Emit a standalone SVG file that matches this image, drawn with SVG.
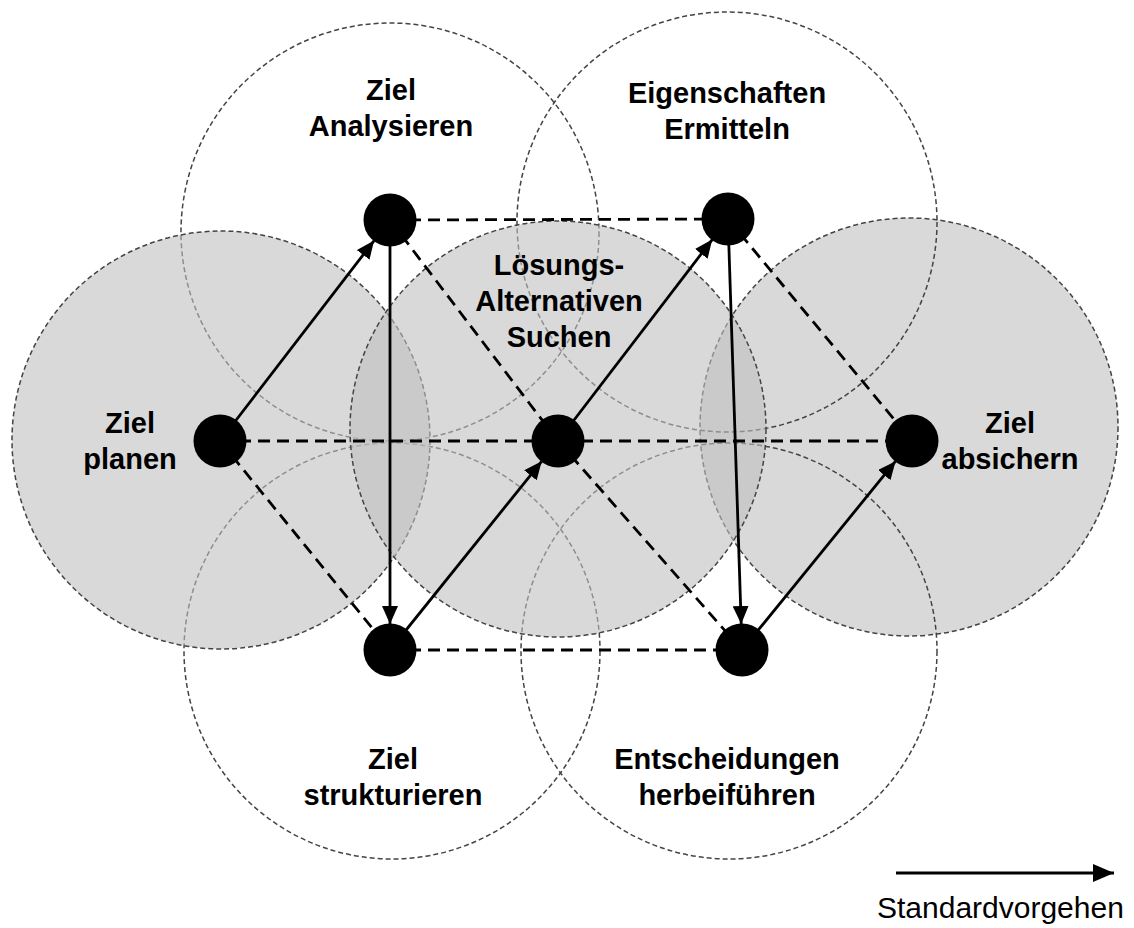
<svg xmlns="http://www.w3.org/2000/svg" width="1134" height="928" viewBox="0 0 1134 928">
  <style>
    .area { stroke: #444; stroke-width: 1.5; stroke-dasharray: 5 3; }
    .open { fill: none; }
    .shade { fill: #c0c0c0; fill-opacity: 0.6; }
    .link { stroke: #000; stroke-width: 2.8; fill: none; }
    .dash { stroke-dasharray: 12 7; }
    .dot { fill: #000; }
    .lbl { font-family: "Liberation Sans", Arial, Helvetica, sans-serif; font-weight: bold; font-size: 29px; text-anchor: middle; fill: #000; }
    .legend { font-family: "Liberation Sans", Arial, Helvetica, sans-serif; font-size: 30px; fill: #000; }
  </style>
  <defs>
    <marker id="head" markerUnits="userSpaceOnUse" markerWidth="18" markerHeight="16" refX="18" refY="8" orient="auto">
      <path d="M0,0 L18,8 L0,16 Z" fill="#000"/>
    </marker>
    <marker id="headBig" markerUnits="userSpaceOnUse" markerWidth="21" markerHeight="18" refX="21" refY="9" orient="auto">
      <path d="M0,0 L21,9 L0,18 Z" fill="#000"/>
    </marker>
  </defs>
  <rect width="1134" height="928" fill="#fff"/>

  <!-- phase areas: shaded and open circles, stacked in drawing order -->
  <g id="areas">
    <circle id="area-absichern" class="area shade" cx="909" cy="427" r="209"/>
    <circle id="area-analysieren" class="area open" cx="390" cy="232" r="209"/>
    <circle id="area-ermitteln" class="area open" cx="727" cy="222" r="210"/>
    <circle id="area-strukturieren" class="area open" cx="392" cy="651" r="208"/>
    <circle id="area-entscheiden" class="area open" cx="729" cy="651" r="208"/>
    <circle id="area-planen" class="area shade" cx="221" cy="440" r="209"/>
    <circle id="area-suchen" class="area shade" cx="558" cy="429" r="208"/>
  </g>

  <g id="connectors">
    <!-- dashed alternative paths -->
    <line class="link dash" x1="390" y1="220" x2="728" y2="219"/>
    <line class="link dash" x1="390" y1="220" x2="558" y2="441"/>
    <line class="link dash" x1="220" y1="441" x2="912" y2="441"/>
    <line class="link dash" x1="220" y1="441" x2="390" y2="650"/>
    <line class="link dash" x1="390" y1="650" x2="742" y2="650"/>
    <line class="link dash" x1="558" y1="441" x2="742" y2="650"/>
    <line class="link dash" x1="728" y1="219" x2="912" y2="441"/>
    <!-- standard sequence -->
    <line class="link" x1="220" y1="441" x2="374.1" y2="240.6" marker-end="url(#head)"/>
    <line class="link" x1="390" y1="220" x2="390" y2="624" marker-end="url(#head)"/>
    <line class="link" x1="390" y1="650" x2="541.7" y2="461.3" marker-end="url(#head)"/>
    <line class="link" x1="558" y1="441" x2="712.2" y2="239.6" marker-end="url(#head)"/>
    <line class="link" x1="728" y1="219" x2="741.2" y2="624" marker-end="url(#head)"/>
    <line class="link" x1="742" y1="650" x2="895.6" y2="461.2" marker-end="url(#head)"/>
  </g>

  <g id="node-planen">
    <circle class="dot" cx="220" cy="441" r="26.5"/>
    <text class="lbl" x="130" y="433">Ziel</text>
    <text class="lbl" x="130" y="469">planen</text>
  </g>
  <g id="node-analysieren">
    <circle class="dot" cx="390" cy="220" r="26.5"/>
    <text class="lbl" x="391" y="100">Ziel</text>
    <text class="lbl" x="391" y="136">Analysieren</text>
  </g>
  <g id="node-suchen">
    <circle class="dot" cx="558" cy="441" r="26.5"/>
    <text class="lbl" x="559" y="275">Lösungs-</text>
    <text class="lbl" x="559" y="311">Alternativen</text>
    <text class="lbl" x="559" y="347">Suchen</text>
  </g>
  <g id="node-ermitteln">
    <circle class="dot" cx="728" cy="219" r="26.5"/>
    <text class="lbl" x="727" y="103">Eigenschaften</text>
    <text class="lbl" x="727" y="139">Ermitteln</text>
  </g>
  <g id="node-absichern">
    <circle class="dot" cx="912" cy="441" r="26.5"/>
    <text class="lbl" x="1010" y="433">Ziel</text>
    <text class="lbl" x="1010" y="469">absichern</text>
  </g>
  <g id="node-strukturieren">
    <circle class="dot" cx="390" cy="650" r="26.5"/>
    <text class="lbl" x="393" y="769">Ziel</text>
    <text class="lbl" x="393" y="805">strukturieren</text>
  </g>
  <g id="node-entscheiden">
    <circle class="dot" cx="742" cy="650" r="26.5"/>
    <text class="lbl" x="727" y="769">Entscheidungen</text>
    <text class="lbl" x="727" y="805">herbeiführen</text>
  </g>

  <g id="legend">
    <line class="link" x1="896" y1="873" x2="1114" y2="873" marker-end="url(#headBig)"/>
    <text class="legend" x="877" y="918">Standardvorgehen</text>
  </g>
</svg>
